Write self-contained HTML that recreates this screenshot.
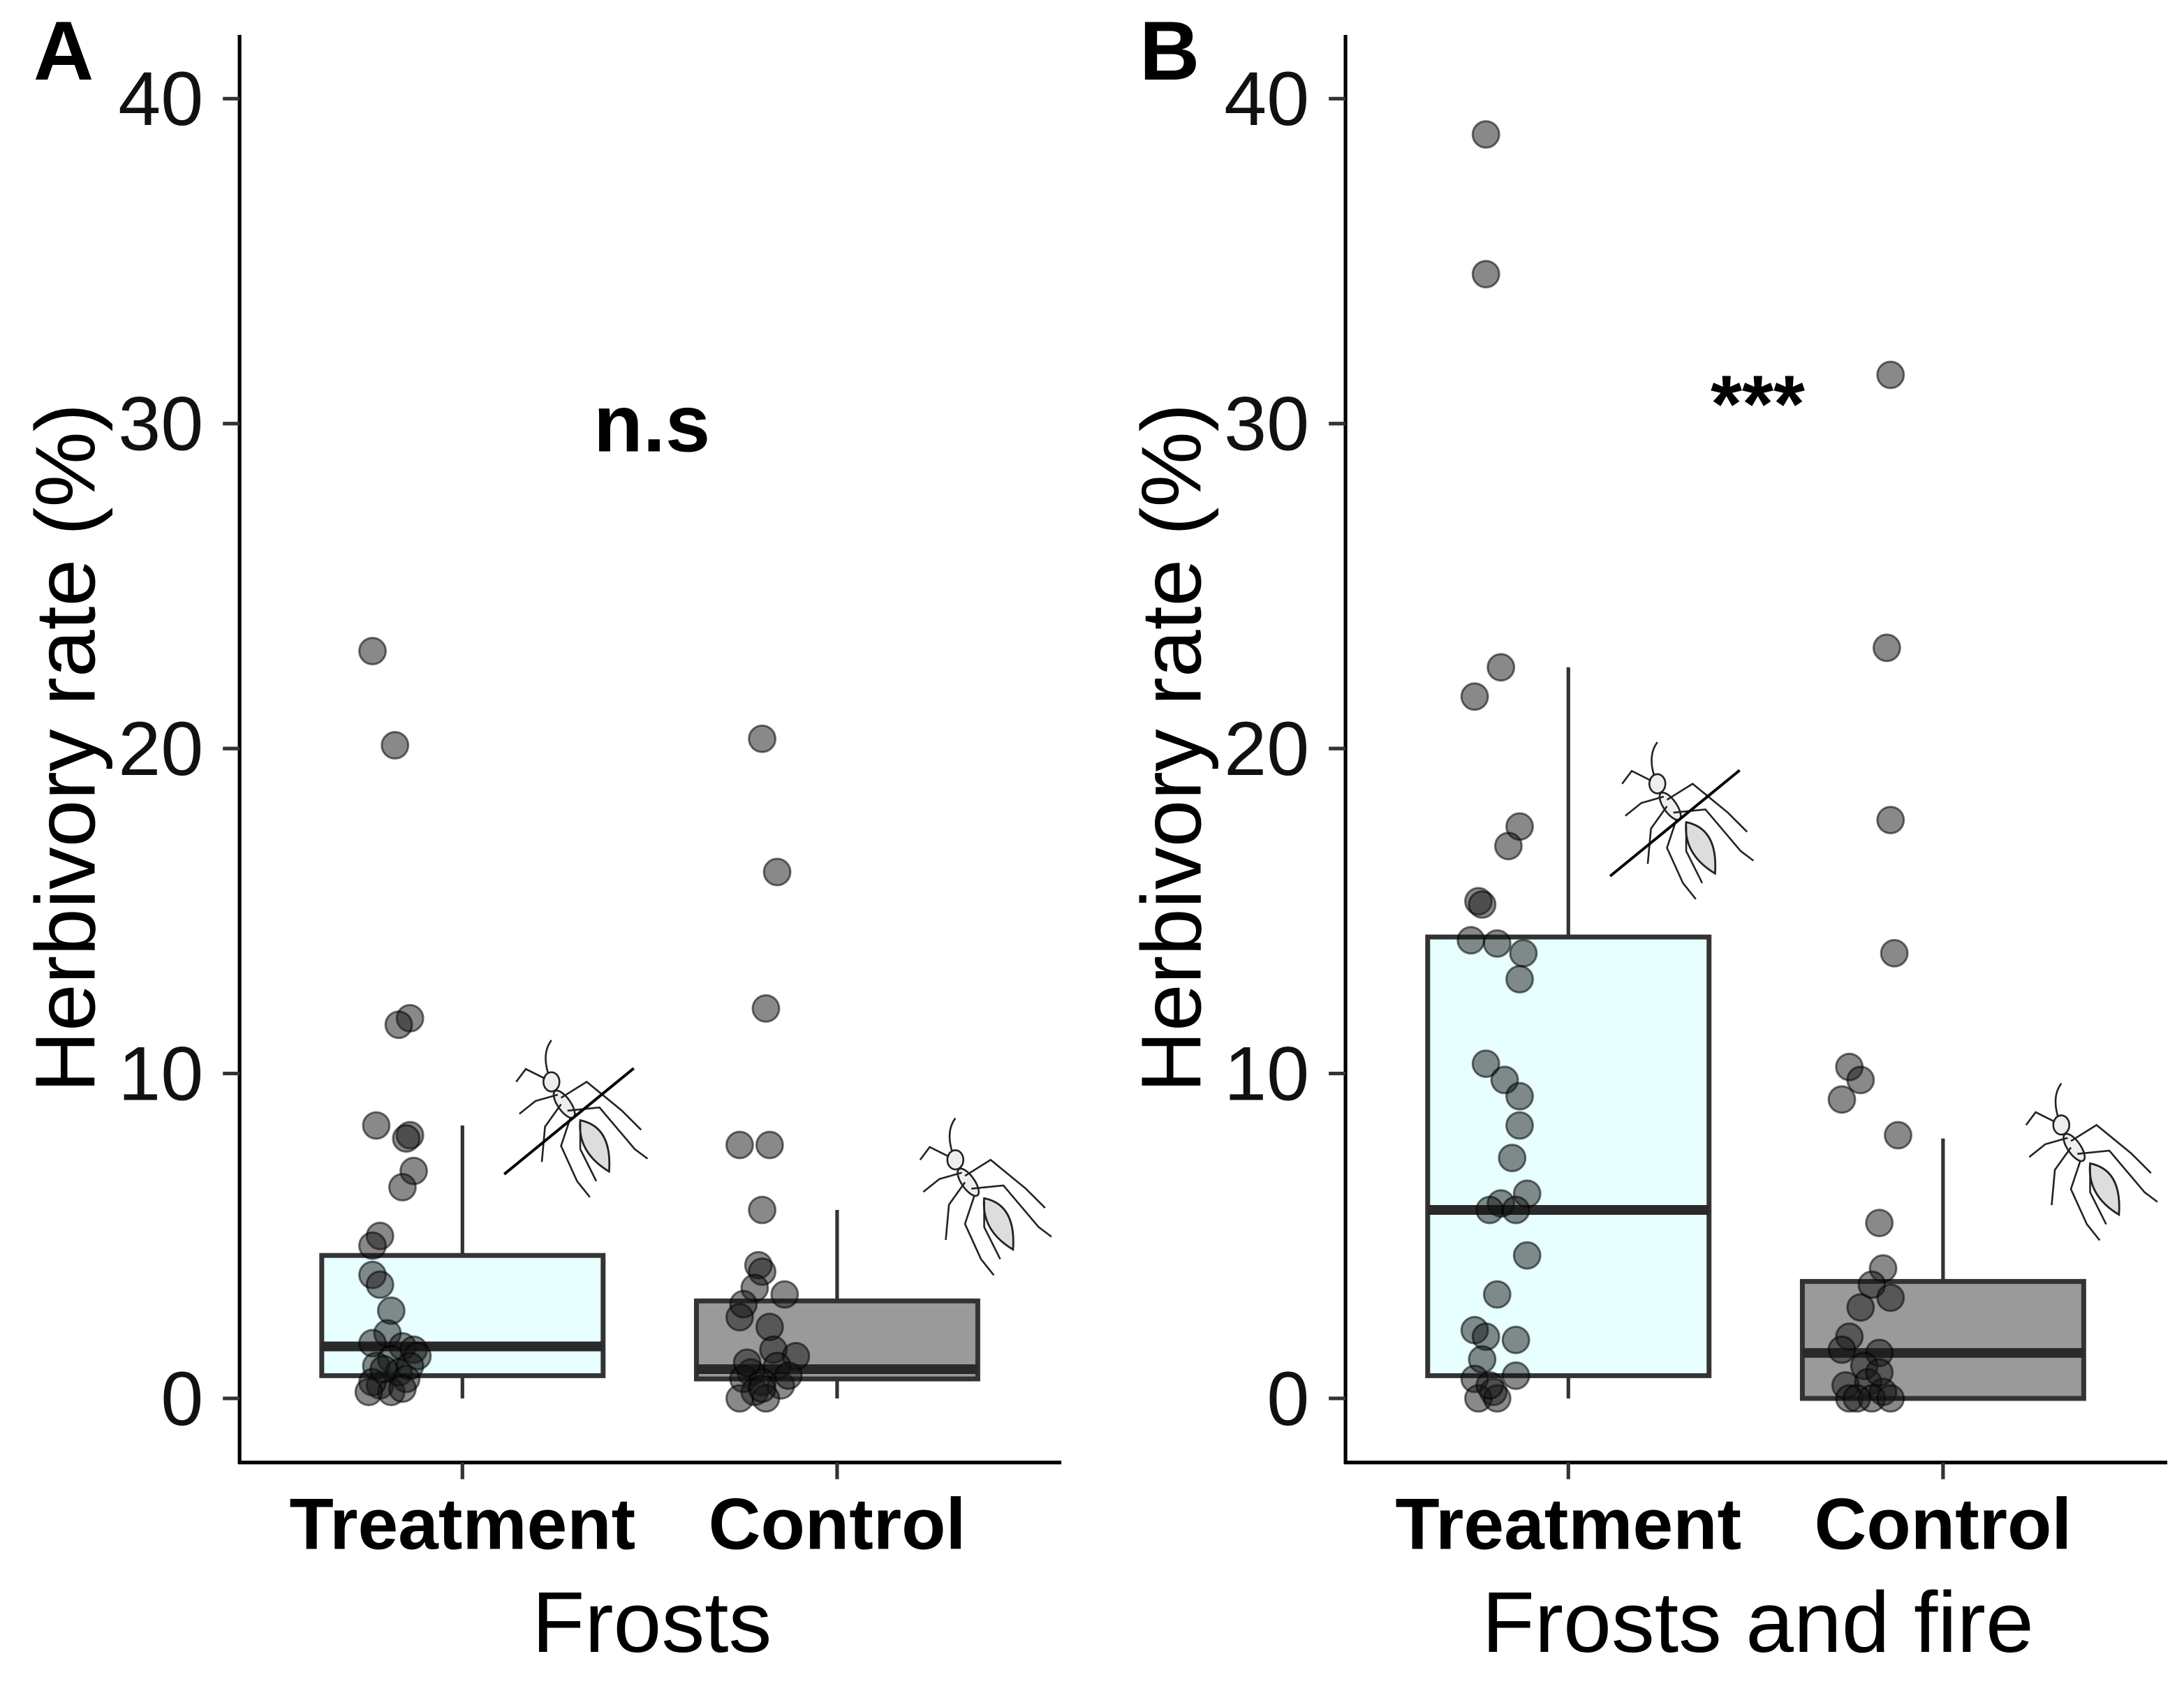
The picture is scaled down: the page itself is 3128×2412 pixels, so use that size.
<!DOCTYPE html>
<html><head><meta charset="utf-8">
<style>
html,body{margin:0;padding:0;background:#fff;}
svg{display:block;font-family:"Liberation Sans",Arial,sans-serif;}
</style></head>
<body>
<svg id="chart" width="3128" height="2412" viewBox="0 0 1568 1209" xmlns="http://www.w3.org/2000/svg">
<g id="root"></g>
</svg>
<script>
// ---- data ----
const panels = ["A", "B"];
const panelTitles = ["Frosts", "Frosts and fire"];
const annotations = ["n.s", "***"];
const annotationValues = [30, 30.6];
const categories = ["Treatment", "Control"];
const yTicks = [0, 10, 20, 30, 40];
// box stats [lowerWhisker, q1, median, q3, upperWhisker]
const boxA_Treatment = [0, 0.7, 1.6, 4.4, 8.4];
const boxA_Control = [0, 0.6, 0.9, 3.0, 5.8];
const boxB_Treatment = [0, 0.7, 5.8, 14.2, 22.5];
const boxB_Control = [0, 0, 1.4, 3.6, 8.0];
// points: values and jitter (fraction of category spacing, relative to centre)
const ptsA_Treatment = [23,20.1,11.7,11.5,8.4,8.1,8,7,6.5,5,4.7,3.8,3.5,2.7,2,1.7,1.6,1.5,1.3,1.2,1,0.8,0.6,0.4,0.2,0.5,1,0.3,0.9,0.2];
const jitA_Treatment = [-0.24,-0.18,-0.14,-0.17,-0.23,-0.14,-0.15,-0.13,-0.16,-0.22,-0.24,-0.24,-0.22,-0.19,-0.2,-0.24,-0.16,-0.13,-0.12,-0.19,-0.23,-0.17,-0.15,-0.22,-0.19,-0.24,-0.14,-0.16,-0.21,-0.25];
const ptsA_Control = [20.3,16.2,12,7.8,7.8,5.8,4.1,3.9,3.4,3.2,2.9,2.5,2.2,1.5,1.3,1,0.8,0.6,0.5,0.4,0.2,0,0,0.7,1.1,0.3];
const jitA_Control = [-0.2,-0.16,-0.19,-0.26,-0.18,-0.2,-0.21,-0.2,-0.22,-0.14,-0.25,-0.26,-0.18,-0.17,-0.11,-0.16,-0.23,-0.25,-0.2,-0.15,-0.22,-0.26,-0.19,-0.13,-0.24,-0.2];
const ptsB_Treatment = [38.9,34.6,22.5,21.6,17.6,17,15.3,15.2,14.1,14,13.7,12.9,10.3,9.8,9.3,8.4,7.4,6,6.3,5.8,5.8,4.4,3.2,2.1,1.9,1.8,1.2,0.6,0.2,0,0,0.7,0.4];
const jitB_Treatment = [-0.22,-0.22,-0.18,-0.25,-0.13,-0.16,-0.24,-0.23,-0.26,-0.19,-0.12,-0.13,-0.22,-0.17,-0.13,-0.13,-0.15,-0.18,-0.11,-0.21,-0.14,-0.11,-0.19,-0.25,-0.22,-0.14,-0.23,-0.25,-0.2,-0.24,-0.19,-0.14,-0.21];
const ptsB_Control = [31.5,23.1,17.8,13.7,10.2,9.2,9.8,8.1,5.4,4,3.5,3.1,2.8,1.9,1.4,1,0.5,0.4,0.2,0,0,0,0,0.8,1.5];
const jitB_Control = [-0.14,-0.15,-0.14,-0.13,-0.25,-0.27,-0.22,-0.12,-0.17,-0.16,-0.19,-0.14,-0.22,-0.25,-0.17,-0.21,-0.2,-0.26,-0.16,-0.25,-0.19,-0.14,-0.23,-0.17,-0.27];

const boxes = [[boxA_Treatment, boxA_Control],[boxB_Treatment, boxB_Control]];
const pts = [[ptsA_Treatment, ptsA_Control],[ptsB_Treatment, ptsB_Control]];
const jits = [[jitA_Treatment, jitA_Control],[jitB_Treatment, jitB_Control]];
const boxFills = ["#e8ffff", "#9a9a9a"];

// ---- layout ----
const NS = "http://www.w3.org/2000/svg";
const root = document.getElementById("root");
function el(tag, attrs, parent){const e=document.createElementNS(NS,tag);for(const k in attrs)e.setAttribute(k,attrs[k]);(parent||root).appendChild(e);return e;}
const panelX0 = [172, 966];
const panelW = 590;
const yTop = 25, yBase = 1050;
function yScale(v){return 1004 - v*23.33;}
function xScale(p,i){return panelX0[p] + 160 + i*269;}
const boxHalf = 101;

function drawAnt(g, cx, cy, s){
  const st = {stroke:"#222","stroke-width":1.3,fill:"none"};
  const head = el("ellipse",{cx:cx-14*s,cy:cy-22*s,rx:5*s,ry:6*s,fill:"#eee",stroke:"#222","stroke-width":1.3},g);
  
  
  el("ellipse",{cx:cx-6*s,cy:cy-8*s,rx:4*s,ry:10*s,fill:"#eee",stroke:"#222","stroke-width":1.3,transform:`rotate(-35 ${cx-6*s} ${cy-8*s})`},g);
  el("path",{d:`M${cx+4*s} ${cy+2*s} Q${cx+24*s} ${cy+6*s} ${cx+22*s} ${cy+34*s} Q${cx+2*s} ${cy+22*s} ${cx+4*s} ${cy+2*s} Z`,fill:"#ddd",stroke:"#222","stroke-width":1.4},g);
  el("path",{d:`M${cx-16*s} ${cy-27*s} Q${cx-20*s} ${cy-40*s} ${cx-14*s} ${cy-48*s}`,...st},g);
  el("path",{d:`M${cx-18*s} ${cy-24*s} L${cx-30*s} ${cy-30*s} L${cx-36*s} ${cy-22*s}`,...st},g);
  el("path",{d:`M${cx-8*s} ${cy-12*s} L${cx+8*s} ${cy-22*s} L${cx+30*s} ${cy-4*s} L${cx+42*s} ${cy+8*s}`,...st},g);
  el("path",{d:`M${cx-4*s} ${cy-4*s} L${cx+16*s} ${cy-6*s} L${cx+38*s} ${cy+20*s} L${cx+46*s} ${cy+26*s}`,...st},g);
  el("path",{d:`M${cx-8*s} ${cy-8*s} L${cx-18*s} ${cy+6*s} L${cx-20*s} ${cy+28*s}`,...st},g);
  el("path",{d:`M${cx-2*s} ${cy} L${cx-8*s} ${cy+18*s} L${cx+2*s} ${cy+40*s} L${cx+10*s} ${cy+50*s}`,...st},g);
  el("path",{d:`M${cx+4*s} ${cy+4*s} L${cx+4*s} ${cy+20*s} L${cx+14*s} ${cy+40*s}`,...st},g);
  el("path",{d:`M${cx-10*s} ${cy-14*s} L${cx-24*s} ${cy-10*s} L${cx-34*s} ${cy-2*s}`,...st},g);
}

for(let p=0;p<2;p++){
  const g = el("g",{});
  
  
  const x0 = panelX0[p];
  const lt = el("text",{x:x0-148,y:57,"font-size":60,"font-weight":"bold"},g);
  lt.textContent = panels[p];
  
  
  const ya = el("line",{x1:x0,y1:yTop,x2:x0,y2:yBase+1,stroke:"#000","stroke-width":2.6},g);
  
  
  const xa = el("line",{x1:x0-1,y1:yBase,x2:x0+panelW,y2:yBase,stroke:"#000","stroke-width":2.6},g);
  
  
  yTicks.forEach(t=>{
    el("line",{x1:x0-12,x2:x0,y1:yScale(t),y2:yScale(t),stroke:"#333","stroke-width":2.6},g);
    const tl = el("text",{x:x0-26,y:yScale(t)+19,"font-size":55,"text-anchor":"end",fill:"#111"},g);
    tl.textContent = t;
    
    
  });
  const yt = el("text",{x:0,y:0,"font-size":61,"text-anchor":"middle",transform:`translate(${x0-104},537) rotate(-90)`},g);
  yt.textContent = "Herbivory rate (%)";
  
  
  const xt = el("text",{x:x0+296,y:1186,"font-size":62,"text-anchor":"middle"},g);
  xt.textContent = panelTitles[p];
  
  
  const an = el("text",{x:x0+296,y:yScale(annotationValues[p])+20,"font-size":58,"font-weight":"bold","text-anchor":"middle"},g);
  an.textContent = annotations[p];
  
  

  for(let i=0;i<2;i++){
    const cx = xScale(p,i);
    const b = boxes[p][i];
    el("line",{x1:cx,x2:cx,y1:yBase,y2:yBase+12,stroke:"#333","stroke-width":2.6},g);
    const cl = el("text",{x:cx,y:1112,"font-size":52,"font-weight":"bold","text-anchor":"middle"},g);
    cl.textContent = categories[i];
    
    
    const bg = el("g",{},g);
    
    
    el("line",{x1:cx,x2:cx,y1:yScale(b[4]),y2:yScale(b[3]),stroke:"#333","stroke-width":2.6},bg);
    el("line",{x1:cx,x2:cx,y1:yScale(b[1]),y2:yScale(b[0]),stroke:"#333","stroke-width":2.6},bg);
    el("rect",{x:cx-boxHalf,y:yScale(b[3]),width:boxHalf*2,height:yScale(b[1])-yScale(b[3]),fill:boxFills[i],stroke:"#333","stroke-width":3.5},bg);
    el("line",{x1:cx-boxHalf,x2:cx+boxHalf,y1:yScale(b[2]),y2:yScale(b[2]),stroke:"#2a2a2a","stroke-width":7},bg);
    const vals = pts[p][i], jit = jits[p][i];
    vals.forEach((v,k)=>{
      const c = el("circle",{cx:cx+jit[k]*269,cy:yScale(v),r:9.5,fill:"rgba(20,20,20,0.5)",stroke:"rgba(0,0,0,0.55)","stroke-width":1.5},g);
      
      
    });
  }
  const ag = el("g",{},g);
  
  
  const antY = p===0 ? 802 : 588;
  drawAnt(ag, x0+240, antY, 1.15);
  el("line",{x1:x0+190,y1:antY+41,x2:x0+283,y2:antY-35,stroke:"#000","stroke-width":2},ag);
  const ag2 = el("g",{},g);
  
  
  drawAnt(ag2, x0+530, p===0?858:833, 1.15);
}
</script>
</body></html>
